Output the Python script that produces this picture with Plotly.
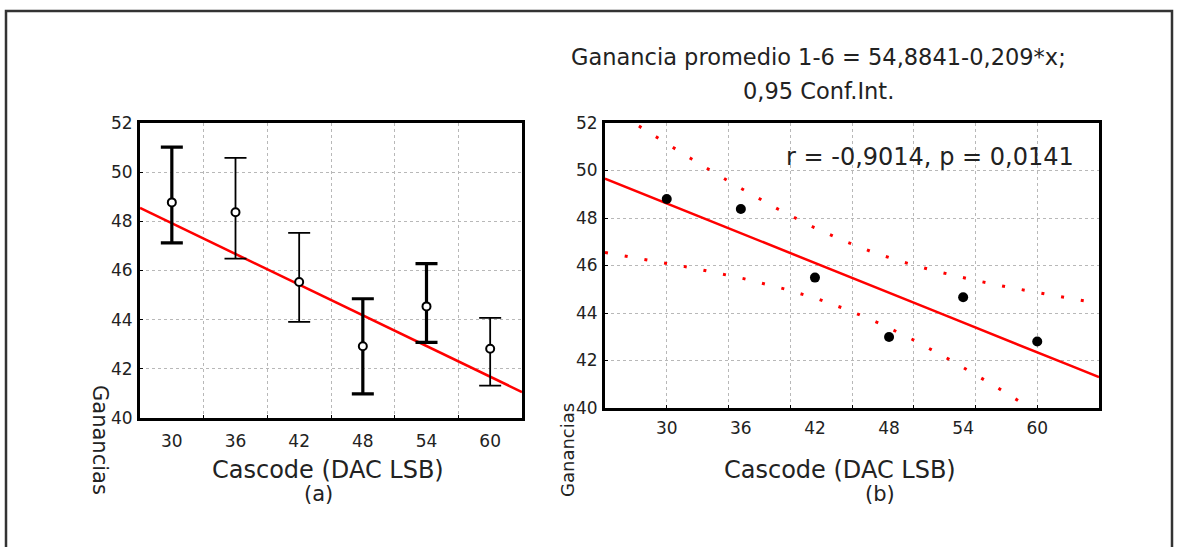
import numpy as np
import plotly.graph_objects as go

# ---------------- data ----------------
cascode = [30, 36, 42, 48, 54, 60]
gain_mean = [48.77, 48.37, 45.53, 42.92, 44.54, 42.82]
gain_upper = [51.02, 50.58, 47.53, 44.85, 46.28, 44.07]
gain_lower = [47.12, 46.48, 43.91, 40.98, 43.08, 41.32]
bold_bars = [True, False, False, True, True, False]

gain_avg = [48.80, 48.38, 45.49, 42.99, 44.66, 42.80]

left_fit = (54.16, -0.208)        # trend line in panel (a)
right_fit = (54.8841, -0.209)     # Ganancia promedio 1-6 = 54,8841-0,209*x
t_crit = 2.776                    # t(0.975, n-2 = 4)

x_ticks = [30, 36, 42, 48, 54, 60]
y_ticks = [40, 42, 44, 46, 48, 50, 52]

W, H = 1178, 547
FONT = "DejaVu Sans, Liberation Sans, Arial, sans-serif"
TXT = "#222222"

def px_x(p):
    return p / W

def px_y(p):
    return 1 - p / H

fig = go.Figure()

# ---------------- panel (a) ----------------
xr_a = [27, 63]
lx = np.array(xr_a, dtype=float)
fig.add_trace(go.Scatter(x=lx, y=left_fit[0] + left_fit[1] * lx, mode="lines",
                         line=dict(color="#ff0000", width=2.5),
                         xaxis="x", yaxis="y", showlegend=False, hoverinfo="skip"))

for bold in (True, False):
    xs = [c for c, b in zip(cascode, bold_bars) if b == bold]
    ms = [m for m, b in zip(gain_mean, bold_bars) if b == bold]
    up = [u - m for u, m, b in zip(gain_upper, gain_mean, bold_bars) if b == bold]
    lo = [m - l for l, m, b in zip(gain_lower, gain_mean, bold_bars) if b == bold]
    fig.add_trace(go.Scatter(
        x=xs, y=ms, mode="markers",
        marker=dict(size=8, color="white", line=dict(color="black", width=2)),
        error_y=dict(type="data", symmetric=False, array=up, arrayminus=lo,
                     color="black", thickness=3.2 if bold else 1.8, width=11),
        xaxis="x", yaxis="y", showlegend=False))

# ---------------- panel (b) ----------------
xr_b = [25, 65]
xx = np.linspace(xr_b[0], xr_b[1], 400)
xa = np.array(cascode, dtype=float)
ya = np.array(gain_avg)
yhat_pts = right_fit[0] + right_fit[1] * xa
s = np.sqrt(np.sum((ya - yhat_pts) ** 2) / (len(xa) - 2))
sxx = np.sum((xa - xa.mean()) ** 2)
yhat = right_fit[0] + right_fit[1] * xx
half = t_crit * s * np.sqrt(1 / len(xa) + (xx - xa.mean()) ** 2 / sxx)

for band in (yhat + half, yhat - half):
    fig.add_trace(go.Scatter(x=xx, y=band, mode="lines",
                             line=dict(color="#ff0000", width=3, dash="3px,17px"),
                             xaxis="x2", yaxis="y2", showlegend=False, hoverinfo="skip"))

fig.add_trace(go.Scatter(x=xx, y=yhat, mode="lines",
                         line=dict(color="#ff0000", width=2.5),
                         xaxis="x2", yaxis="y2", showlegend=False, hoverinfo="skip"))
fig.add_trace(go.Scatter(x=cascode, y=gain_avg, mode="markers",
                         marker=dict(size=10, color="black"),
                         xaxis="x2", yaxis="y2", showlegend=False))

# ---------------- axes ----------------
grid = dict(showgrid=True, gridcolor="#b8b8b8", griddash="dot", gridwidth=1)
common_axis = dict(showline=True, linecolor="black", linewidth=3, mirror=True,
                   zeroline=False, automargin=False,
                   tickfont=dict(family=FONT, size=17, color=TXT))

fig.update_layout(
    width=W, height=H, margin=dict(l=0, r=0, t=0, b=0, pad=0, autoexpand=False),
    paper_bgcolor="white", plot_bgcolor="white",
    xaxis=dict(domain=[px_x(140), px_x(522)], range=xr_a, tickmode="array",
               tickvals=x_ticks, ticks="", showgrid=False,
               minor=dict(tickvals=[33, 39, 45, 51, 57], ticks="inside", ticklen=3,
                          tickcolor="black", **grid),
               anchor="y", ticklabelstandoff=6, **common_axis),
    yaxis=dict(domain=[px_y(418), px_y(123)], range=[40, 52], tickmode="array",
               tickvals=y_ticks, ticks="inside", ticklen=3, tickcolor="black",
               anchor="x", ticklabelstandoff=1, **grid, **common_axis),
    xaxis2=dict(domain=[px_x(605), px_x(1099)], range=xr_b, tickmode="array",
                tickvals=x_ticks, ticks="", showgrid=False,
                minor=dict(tickvals=[30, 35, 40, 45, 50, 55, 60], ticks="inside",
                           ticklen=3, tickcolor="black", **grid),
                anchor="y2", ticklabelstandoff=3, **common_axis),
    yaxis2=dict(domain=[px_y(408), px_y(123)], range=[40, 52], tickmode="array",
                tickvals=y_ticks, ticks="inside", ticklen=3, tickcolor="black",
                anchor="x2", ticklabelstandoff=1, **grid, **common_axis),
)

# outer frame (open at the bottom)
fig.add_shape(type="rect", xref="paper", yref="paper",
              x0=px_x(6), x1=px_x(1172), y0=-0.03, y1=px_y(11),
              line=dict(color="#333333", width=2.5), fillcolor="rgba(0,0,0,0)")

def ann(text, x, y, size=21, angle=0, xanchor="center"):
    fig.add_annotation(text=text, xref="paper", yref="paper", x=px_x(x), y=px_y(y),
                       xanchor=xanchor, yanchor="middle", showarrow=False,
                       textangle=angle, font=dict(family=FONT, size=size, color=TXT))

ann("Cascode (DAC LSB)", 328, 470, size=24)
ann("(a)", 318, 494, size=21)
ann("Cascode (DAC LSB)", 840, 470, size=24)
ann("(b)", 880, 494, size=21)
ann("Ganancias", 100, 440, size=21, angle=90)
ann("Ganancias", 567, 450, size=18, angle=-90)
ann("Ganancia promedio 1-6 = 54,8841-0,209*x;", 818, 57, size=22.5)
ann("0,95 Conf.Int.", 818, 91, size=22.5)
ann("r = -0,9014, p = 0,0141", 1076, 157, size=24, xanchor="right")

fig.write_html("out.html", config={"displayModeBar": False},
               post_script="document.body.style.margin='0';")
